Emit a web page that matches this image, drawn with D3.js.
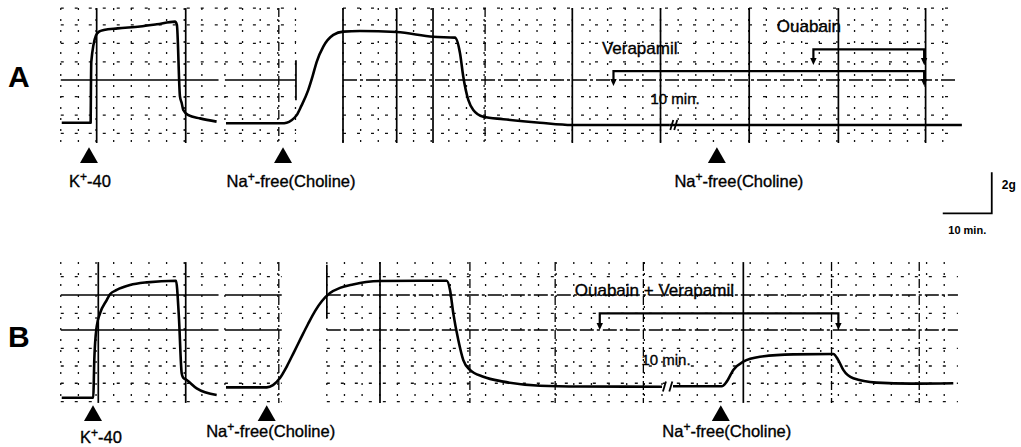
<!DOCTYPE html>
<html>
<head>
<meta charset="utf-8">
<script src="https://cdn.jsdelivr.net/npm/d3@7"></script>
<style>
  body { margin: 0; background: #fff; }
  svg { display: block; font-family: "Liberation Sans", Arial, Helvetica, sans-serif; }
  .lbl { stroke: #000; stroke-width: 0.35px; }
</style>
</head>
<body>
<div id="chart"></div>
<script>
// ---- data: tension traces as [time (min), tension (g)] ----
// panel A: control
const traceA1 = [[12.6,0.03],[18.5,0.03],[18.55,1.5],[18.63,3.0],[19.6,4.3],[20.2,4.47],[21.2,4.55],[24,4.63],
  [28.57,4.72],[32,4.83],[35.71,4.96],[36.1,4.8],[36.73,1.3],[37.08,0.99],[37.4,0.65],[38.43,0.4],[40.82,0.24],[44.2,0.08]];
const traceA2 = [[46.12,0],[57.49,0],[58.5,0.03],[59.5,0.15],[60.55,0.4],[61.5,0.85],[62.9,1.62],[63.8,2.3],
  [64.63,3.0],[65.98,3.74],[68.03,4.31],[70.06,4.47],[73.47,4.5],[80.96,4.45],[88.43,4.22],[92.86,4.18],
  [93.88,3.42],[94.55,2.27],[95.57,1.14],[96.59,0.65],[98.63,0.32],[102.71,0.2],[110.2,0.03],[116.73,-0.08],[136.7,-0.08]];
const traceA3 = [[136.7,-0.08],[160,-0.08],[196.3,-0.08]];
// panel B: after ouabain + verapamil
const traceB1 = [[12.6,0.01],[19.04,0.01],[19.15,0.9],[19.24,1.85],[19.73,3.48],[20.41,4.13],[21.78,4.78],[22.45,5.06],
  [23.82,5.27],[26.53,5.51],[29.94,5.64],[35.92,5.72],[36.5,4.0],[37.08,1.2],[37.35,1.0],[38.1,0.88],[40.14,0.47],[44.22,0.15]];
const traceB2 = [[46.12,0.52],[54.43,0.52],[55.71,0.63],[57.14,0.98],[58.57,1.56],[60.0,2.24],[61.43,2.93],[62.86,3.61],
  [64.29,4.24],[65.71,4.73],[67.35,5.12],[69.39,5.37],[72.04,5.54],[74.69,5.66],[77.55,5.71],[91.16,5.72],[91.84,5.27],
  [92.51,4.13],[93.53,2.83],[94.55,1.85],[95.92,1.37],[98.63,1.04],[102.71,0.8],[110.2,0.6],[118.37,0.56],[135.1,0.55]];
const traceB3 = [[137.35,0.57],[147.29,0.57],[148.31,0.8],[149.65,1.37],[151.69,1.77],[155.1,2.01],[161.9,2.13],
  [170.06,2.15],[171.08,1.85],[172.1,1.37],[174.14,0.96],[178.92,0.75],[186,0.7],[194.55,0.72]];

// stimuli (time of application, min)
const stimTimesA = [18.16, 57.76, 146.3];
const stimTimesB = [18.98, 54.43, 147.1];
const stimLabels = ["K|+|-40", "Na|+|-free(Choline)", "Na|+|-free(Choline)"];

// drug application bars [start, end] in min
const drugNames = ["Verapamil", "Ouabain", "Ouabain + Verapamil"];
const drugStart = [125.2, 166.0, 122.4];
const drugEnd = [188.6, 188.6, 171.1];

// recording paper pieces [start, end] min, grid rows (g)
const piecesA = [[12.4, 44.6], [45.9, 60.4], [70, 195.5]];
const piecesB = [[12.4, 44.6], [45.9, 57.5], [66.7, 195.5]];
const rowsA = [5.62, 4.8, 3.9, 3.0, 1.3, 0.4, -0.49];
const rowsB = [5.92, 4.13, 2.42, 1.56, 0.72, -0.18];
const refRowsA = [2.11];
const refRowsB = [5.02, 3.32];
const majorA = [19.73, 37.9, 70, 80.96, 88.37, 116.8, 134.8, 152.9, 171.1, 188.9];
const majorB = [20.06, 37.9, 77.55, 151.7];
const dashMajorA = [56.9, 99.0];
const dashMajorB = [56.9, 95.9, 113.3, 131.3, 169.7, 187.6];
const breakA = [137.1, 137.9];
const breakB = [135.6, 136.9];

// ---- drawing ----
const W = 1021, H = 447;
const svg = d3.select("#chart").append("svg").attr("width", W).attr("height", H);

const x = d3.scaleLinear().domain([0, 210]).range([0, 1029]);   // 10 min = 49 px
const MINOR = 3.6;

const panels = [
  { name: "A", nameY: 87, y: d3.scaleLinear().domain([0, 6]).range([123.3, 0.3]), top: 5.62, bottom: -0.96,
    pieces: piecesA, rows: rowsA, refRows: refRowsA, major: majorA, dashMajor: dashMajorA,
    traces: [traceA1, traceA2, traceA3], brk: breakA, brkG: -0.08,
    stim: stimTimesA, markY: 157.7, labelDx: [1, 8, 22], labelY: [187, 187, 187],
    drugs: [0, 1], drugLevel: [2.55, 3.61], drugTip: [1.82, 2.84], drugDx: [-11.6, -36.6],
    edge: [60.4, 3.08, 1.13], minText: [-21.3, 104] },
  { name: "B", nameY: 347, y: d3.scaleLinear().domain([0, 6]).range([398, 275]), top: 6.63, bottom: -0.24,
    pieces: piecesB, rows: rowsB, refRows: refRowsB, major: majorB, dashMajor: dashMajorB,
    traces: [traceB1, traceB2, traceB3], brk: breakB, brkG: 0.56,
    stim: stimTimesB, markY: 415.7, labelDx: [8, 4, 6], labelY: [443, 437, 437],
    drugs: [2], drugLevel: [4.13], drugTip: [3.32], drugDx: [-25],
    edge: [66.7, 6.5, 3.9], minText: [-23, 365] }
];

function findPiece(p, t) {
  return p.pieces.find(pc => t >= pc[0] - 0.5 && t <= pc[1] + 0.5);
}

panels.forEach(p => {
  const g = svg.append("g");
  const y = p.y;

  // grid paper
  p.pieces.forEach((pc, i) => {
    const cols = d3.range(pc[0], pc[1] + 0.01, MINOR);
    g.selectAll(null).data(cols).enter().append("line")
      .attr("x1", d => x(d)).attr("x2", d => x(d))
      .attr("y1", y(p.top)).attr("y2", y(p.bottom))
      .attr("stroke", "#111").attr("stroke-width", 1.3)
      .attr("stroke-dasharray", "2,9");
    g.selectAll(null).data(p.rows).enter().append("line")
      .attr("x1", x(pc[0])).attr("x2", x(pc[1]))
      .attr("y1", d => y(d)).attr("y2", d => y(d))
      .attr("stroke", "#111").attr("stroke-width", 1.3)
      .attr("stroke-dasharray", "3,11");
    g.selectAll(null).data(p.refRows).enter().append("line")
      .attr("x1", x(pc[0])).attr("x2", x(pc[1]))
      .attr("y1", d => y(d)).attr("y2", d => y(d))
      .attr("stroke", "#000").attr("stroke-width", 1.5)
      .attr("stroke-dasharray", i < 2 ? null : "14,3,3,3");
  });

  g.selectAll(null).data(p.major.filter(t => findPiece(p, t))).enter().append("line")
    .attr("x1", d => x(d)).attr("x2", d => x(d))
    .attr("y1", y(p.top)).attr("y2", y(p.bottom))
    .attr("stroke", "#000").attr("stroke-width", 1.7);
  g.selectAll(null).data(p.dashMajor).enter().append("line")
    .attr("x1", d => x(d)).attr("x2", d => x(d))
    .attr("y1", y(p.top)).attr("y2", y(p.bottom))
    .attr("stroke", "#000").attr("stroke-width", 1.3)
    .attr("stroke-dasharray", "9,3,2,3");
  g.append("line")
    .attr("x1", x(p.edge[0])).attr("x2", x(p.edge[0]))
    .attr("y1", y(p.edge[1])).attr("y2", y(p.edge[2]))
    .attr("stroke", "#000").attr("stroke-width", 1.7);

  // traces
  const line = d3.line().x(d => x(d[0])).y(d => y(d[1])).curve(d3.curveMonotoneX);
  g.selectAll(null).data(p.traces).enter().append("path")
    .attr("d", line)
    .attr("fill", "none").attr("stroke", "#000").attr("stroke-width", 2.6)
    .attr("stroke-linejoin", "round");

  // break marks
  g.selectAll(null).data(p.brk).enter().append("line")
    .attr("x1", d => x(d) - 1.5).attr("x2", d => x(d) + 1.5)
    .attr("y1", y(p.brkG) + 5).attr("y2", y(p.brkG) - 5)
    .attr("stroke", "#000").attr("stroke-width", 1.8);
  g.append("text").attr("class", "lbl")
    .attr("x", x(p.brk[0]) + p.minText[0]).attr("y", p.minText[1])
    .attr("font-size", 15)
    .text("10 min.");

  // drug bars
  p.drugs.forEach((di, k) => {
    const x0 = x(drugStart[di]), x1 = x(drugEnd[di]);
    const yl = y(p.drugLevel[k]), yt = y(p.drugTip[k]);
    g.append("path")
      .attr("d", `M${x0},${yt - 4}V${yl}H${x1}V${yt - 4}`)
      .attr("fill", "none").attr("stroke", "#000").attr("stroke-width", 2.2);
    g.selectAll(null).data([x0, x1]).enter().append("path")
      .attr("d", d => `M${d - 3.2},${yt - 7}L${d + 3.2},${yt - 7}L${d},${yt}Z`)
      .attr("fill", "#000");
    g.append("text").attr("class", "lbl")
      .attr("x", x0 + p.drugDx[k]).attr("y", yl - 17)
      .attr("font-size", 17).text(drugNames[di]);
  });

  // stimulus markers
  const tri = d3.symbol().type(d3.symbolTriangle).size(140);
  g.selectAll(null).data(p.stim).enter().append("path")
    .attr("d", tri)
    .attr("transform", d => `translate(${x(d)},${p.markY})`)
    .attr("fill", "#000");
  const labels = g.selectAll(null).data(p.stim).enter().append("text")
    .attr("class", "lbl")
    .attr("x", (d, i) => x(d) + p.labelDx[i])
    .attr("y", (d, i) => p.labelY[i])
    .attr("text-anchor", "middle")
    .attr("font-size", 16.5);
  labels.each(function(d, i) {
    const parts = stimLabels[i].split("|");
    const t = d3.select(this);
    t.append("tspan").text(parts[0]);
    t.append("tspan").attr("dy", -6).attr("font-size", 12).text(parts[1]);
    t.append("tspan").attr("dy", 6).text(parts[2]);
  });

  // panel letter
  g.append("text").attr("x", 8).attr("y", p.nameY)
    .attr("font-size", 30).attr("font-weight", "bold").text(p.name);
});

// scale bar: 10 min x 2 g
const ySb = d3.scaleLinear().domain([0, 2]).range([213.3, 172.3]);
const sbT = 192.4;
svg.append("path")
  .attr("d", `M${x(sbT)},${ySb(0)}H${x(sbT + 10)}V${ySb(2)}`)
  .attr("fill", "none").attr("stroke", "#000").attr("stroke-width", 1.8);
svg.append("text").attr("x", x(sbT + 10) + 10).attr("y", ySb(1.2))
  .attr("font-size", 12).attr("font-weight", "bold").text("2g");
svg.append("text").attr("x", x(sbT + 5)).attr("y", 234)
  .attr("text-anchor", "middle").attr("font-size", 11).attr("font-weight", "bold").text("10 min.");
</script>
</body>
</html>
